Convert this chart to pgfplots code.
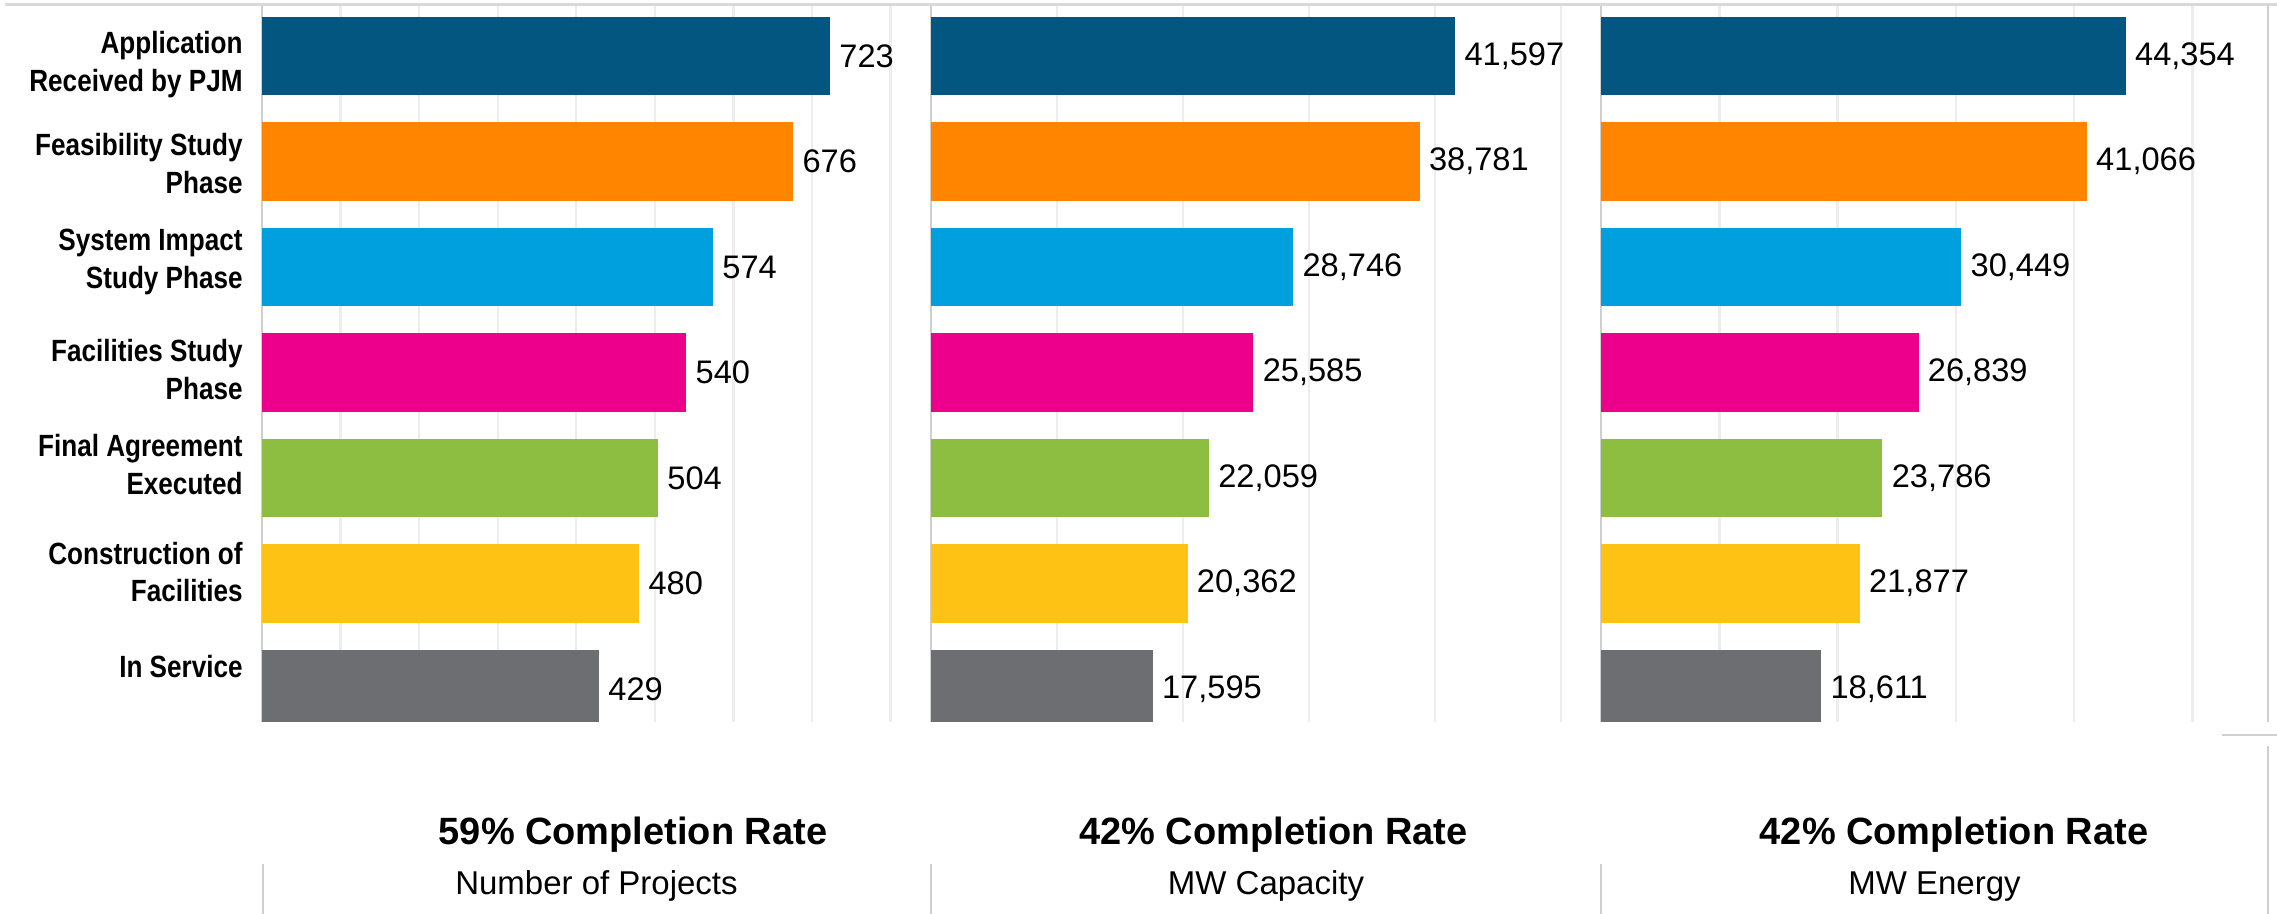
\documentclass[border=0pt]{standalone}
\usepackage{pgfplots}
\pgfplotsset{compat=1.18}
\usepackage{fontspec}
\setmainfont{Liberation Sans}
\newfontfamily\catfont{Liberation Sans}[FakeStretch=0.85]
\definecolor{cA}{HTML}{03567F}
\definecolor{cB}{HTML}{FF8500}
\definecolor{cC}{HTML}{00A0DF}
\definecolor{cD}{HTML}{EC008C}
\definecolor{cE}{HTML}{8DBE41}
\definecolor{cF}{HTML}{FEC215}
\definecolor{cG}{HTML}{6D6E71}
\definecolor{gridc}{HTML}{EDEDED}
\definecolor{axc}{HTML}{CFCFCF}
\definecolor{topc}{HTML}{D9D9D9}
\pgfplotsset{
  panel/.style={
    xbar, bar shift=0pt, bar width=39.3pt,
    scale only axis, height=358.5pt, anchor=south west,
    y dir=reverse, ymin=-0.483, ymax=6.313, xmin=0,
    enlargelimits=false,
    scaled x ticks=false,
    axis x line*=bottom, axis y line*=left,
    x axis line style={draw=none},
    y axis line style={draw=axc, line width=1pt},
    xmajorgrids, major grid style={draw=gridc, line width=1.2pt},
    major tick length=0pt, xticklabels={},
    point meta=x,
    nodes near coords,
    /pgf/number format/fixed, /pgf/number format/precision=0,
    /pgf/number format/1000 sep={,},
    /pgf/number format/assume math mode=true,
    every node near coord/.append style={font=\fontsize{16.3pt}{16.3pt}\selectfont, text=black, anchor=west, inner sep=0pt, xshift=4.5pt},
  },
}
\begin{document}
\begin{tikzpicture}
\path[use as bounding box] (0pt,0pt) rectangle (1138.5pt,457pt);
% Panel 1
\begin{axis}[panel, at={(131pt,96pt)}, width=334.5pt, xmax=851.5,
  xtick={100,200,300,400,500,600,700,800},
  ytick={0.054,1.015,1.922,2.972,3.873,4.891,5.782},
  yticklabels={{Application\\Received by PJM},{Feasibility Study\\Phase},{System Impact\\Study Phase},{Facilities Study\\Phase},{Final Agreement\\Executed},{Construction of\\Facilities},{In Service}},
  yticklabel style={align=right, inner sep=0pt, anchor=east, xshift=-9.5pt, text depth=0pt, font=\fontsize{15.35pt}{18.85pt}\catfont\bfseries},
]
\addplot[fill=cA, draw=none] coordinates {(723,0)};
\addplot[fill=cB, draw=none] coordinates {(676,1)};
\addplot[fill=cC, draw=none] coordinates {(574,2)};
\addplot[fill=cD, draw=none] coordinates {(540,3)};
\addplot[fill=cE, draw=none] coordinates {(504,4)};
\addplot[fill=cF, draw=none] coordinates {(480,5)};
\addplot[fill=cG, draw=none] coordinates {(429,6)};
\end{axis}
% Panel 2
\begin{axis}[panel, at={(465.5pt,96pt)}, width=335pt, xmax=53175,
  xtick={10000,20000,30000,40000,50000}, ytick=\empty]
\addplot[fill=cA, draw=none] coordinates {(41597,0)};
\addplot[fill=cB, draw=none] coordinates {(38781,1)};
\addplot[fill=cC, draw=none] coordinates {(28746,2)};
\addplot[fill=cD, draw=none] coordinates {(25585,3)};
\addplot[fill=cE, draw=none] coordinates {(22059,4)};
\addplot[fill=cF, draw=none] coordinates {(20362,5)};
\addplot[fill=cG, draw=none] coordinates {(17595,6)};
\end{axis}
% Panel 3
\begin{axis}[panel, at={(800.5pt,96pt)}, width=333.5pt, xmax=56380,
  xtick={10000,20000,30000,40000,50000}, ytick=\empty]
\addplot[fill=cA, draw=none] coordinates {(44354,0)};
\addplot[fill=cB, draw=none] coordinates {(41066,1)};
\addplot[fill=cC, draw=none] coordinates {(30449,2)};
\addplot[fill=cD, draw=none] coordinates {(26839,3)};
\addplot[fill=cE, draw=none] coordinates {(23786,4)};
\addplot[fill=cF, draw=none] coordinates {(21877,5)};
\addplot[fill=cG, draw=none] coordinates {(18611,6)};
\end{axis}
% frame lines
\draw[topc, line width=1.5pt] (2.5pt,454.5pt) -- (1138.5pt,454.5pt);
\draw[axc, line width=1pt] (1134pt,454.5pt) -- (1134pt,96pt);
\draw[axc, line width=1pt] (1134pt,84pt) -- (1134pt,0pt);
\draw[axc, line width=1pt] (1111pt,89.5pt) -- (1138.5pt,89.5pt);
\foreach \xx in {131.5,465.5,800.5} {\draw[axc, line width=1pt] (\xx pt,25pt) -- (\xx pt,0pt);}
% bottom titles
\begin{scope}[every node/.style={inner sep=0pt, anchor=base}]
\node[font=\fontsize{19pt}{19pt}\selectfont\bfseries] at (316.5pt,34.5pt) {59\% Completion Rate};
\node[font=\fontsize{19pt}{19pt}\selectfont\bfseries] at (636.75pt,34.5pt) {42\% Completion Rate};
\node[font=\fontsize{19pt}{19pt}\selectfont\bfseries] at (977pt,34.5pt) {42\% Completion Rate};
\node[font=\fontsize{16.5pt}{16.5pt}\selectfont] at (298.25pt,9.5pt) {Number of Projects};
\node[font=\fontsize{16.5pt}{16.5pt}\selectfont] at (633pt,9.5pt) {MW Capacity};
\node[font=\fontsize{16.5pt}{16.5pt}\selectfont] at (967.25pt,9.5pt) {MW Energy};
\end{scope}
\end{tikzpicture}
\end{document}
